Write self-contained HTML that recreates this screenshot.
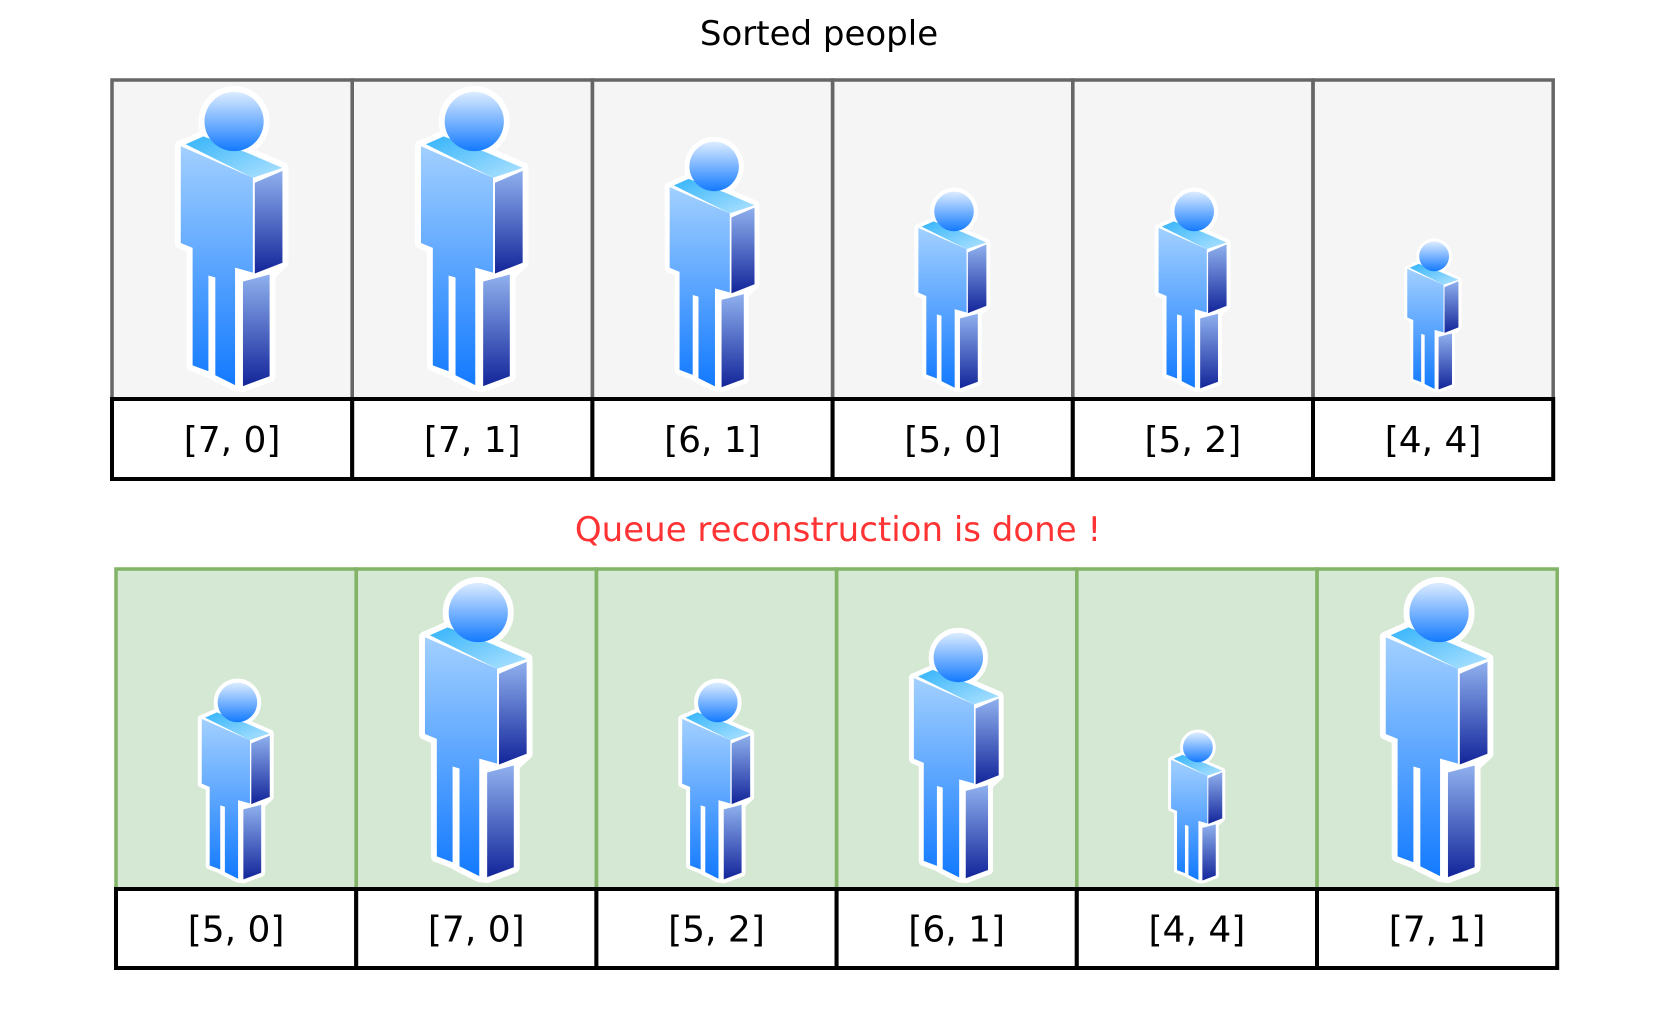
<!DOCTYPE html>
<html><head><meta charset="utf-8">
<style>
html,body{margin:0;padding:0;background:#fff;}
svg{display:block;}
text{font-family:"Comic Sans MS","DejaVu Sans","Liberation Sans",sans-serif;}
</style></head>
<body>
<svg id="chart" width="1664" height="1016" viewBox="0 0 1664 1016" xmlns="http://www.w3.org/2000/svg">
<defs>
<linearGradient id="gFront" x1="0" y1="0" x2="0" y2="1"><stop offset="0" stop-color="#a2d0ff"/><stop offset="1" stop-color="#137aff"/></linearGradient>
<linearGradient id="gSide" x1="0" y1="0" x2="0" y2="1"><stop offset="0" stop-color="#8fb0ee"/><stop offset="1" stop-color="#13259a"/></linearGradient>
<linearGradient id="gTop" x1="0" y1="0" x2="1" y2="1"><stop offset="0" stop-color="#34b4fa"/><stop offset="1" stop-color="#b0e2ff"/></linearGradient>
<linearGradient id="gHead" x1="0" y1="0" x2="0" y2="1"><stop offset="0" stop-color="#dcecff"/><stop offset="1" stop-color="#137aff"/></linearGradient>
</defs>
<text x="819" y="45" font-size="34" text-anchor="middle" fill="#000">Sorted people</text>
<text x="838" y="541" font-size="34" text-anchor="middle" fill="#ff3333">Queue reconstruction is done !</text>
<g id="top-row"></g>
<g id="bottom-row"></g>
</svg>
<script>
const sortedH = [7, 7, 6, 5, 5, 4];
const sortedK = [0, 1, 1, 0, 2, 4];
const resultH = [5, 7, 5, 6, 4, 7];
const resultK = [0, 0, 2, 1, 4, 1];

const NS = 'http://www.w3.org/2000/svg';
function heightPx(h){ return 155 + (h - 4) * 51; }
function mk(tag, attrs, parent){
  const e = document.createElementNS(NS, tag);
  for (const k in attrs) e.setAttribute(k, attrs[k]);
  parent.appendChild(e); return e;
}
const parts = [
  ['gTop',   [[85,73],[103,65],[148,82],[183,97],[153,107]]],
  ['gFront', [[80,75],[153,107],[153,203],[135,198],[135,317],[115,307],[115,208],[108,206],[108,303],[92,297],[92,178],[80,173]]],
  ['gSide',  [[155,112],[183,100],[183,193],[155,204]]],
  ['gSide',  [[143,212],[170,205],[170,308],[143,318]]]
];
function drawPerson(parent, cx, bottom, h){
  const s = heightPx(h) / 312;
  const g = mk('g', {transform:`translate(${cx - 132*s},${bottom - 325*s}) scale(${s})`}, parent);
  
  
  const all = [[80,75],[85,73],[103,65],[148,82],[183,97],[183,193],[170,205],[170,308],[143,318],[135,317],[115,307],[108,303],[92,297],[92,178],[80,173]];
  mk('polygon', {points: all.map(p=>p.join(',')).join(' '), fill:'#fff', stroke:'#fff', 'stroke-width':12, 'stroke-linejoin':'round'}, g);
  mk('circle', {cx:134, cy:50, r:30, fill:'#fff', stroke:'#fff', 'stroke-width':12}, g);
  parts.forEach(([grad, pts]) => {
    mk('polygon', {points: pts.map(p=>p.join(',')).join(' '), fill:`url(#${grad})`}, g);
  });
  mk('circle', {cx:134, cy:50, r:30, fill:'url(#gHead)'}, g);
}
function drawRow(id, H, K, x0, cellW, top, labTop, bot, fill, stroke, feet){
  const row = document.getElementById(id);
  const n = H.length;
  const bg = mk('rect', {x:x0, y:top, width:cellW*n, height:labTop-top, fill:fill}, row);
  
  
  for (let i = 0; i < n; i++){
    const x = x0 + i*cellW;
    drawPerson(row, x + cellW/2, feet, H[i]);
  }
  for (let i = 0; i < n; i++){
    const x = x0 + i*cellW;
    const c = mk('rect', {x:x, y:top, width:cellW, height:labTop-top, fill:'none', stroke:stroke, 'stroke-width':3.5}, row);
    
    
  }
  for (let i = 0; i < n; i++){
    const x = x0 + i*cellW;
    const l = mk('rect', {x:x, y:labTop, width:cellW, height:bot-labTop, fill:'#fff', stroke:'#000', 'stroke-width':4}, row);
    
    
    const t = mk('text', {x:x + cellW/2, y:(labTop+bot)/2 + 13, 'font-size':36, 'text-anchor':'middle', fill:'#000'}, row);
    
    
    t.textContent = `[${H[i]}, ${K[i]}]`;
  }
}
drawRow('top-row', sortedH, sortedK, 112, 240.2, 80, 399, 479, '#f5f5f5', '#666', 393);
drawRow('bottom-row', resultH, resultK, 116, 240.2, 569, 889, 968, '#d5e8d4', '#82b366', 884);
</script>
</body></html>
